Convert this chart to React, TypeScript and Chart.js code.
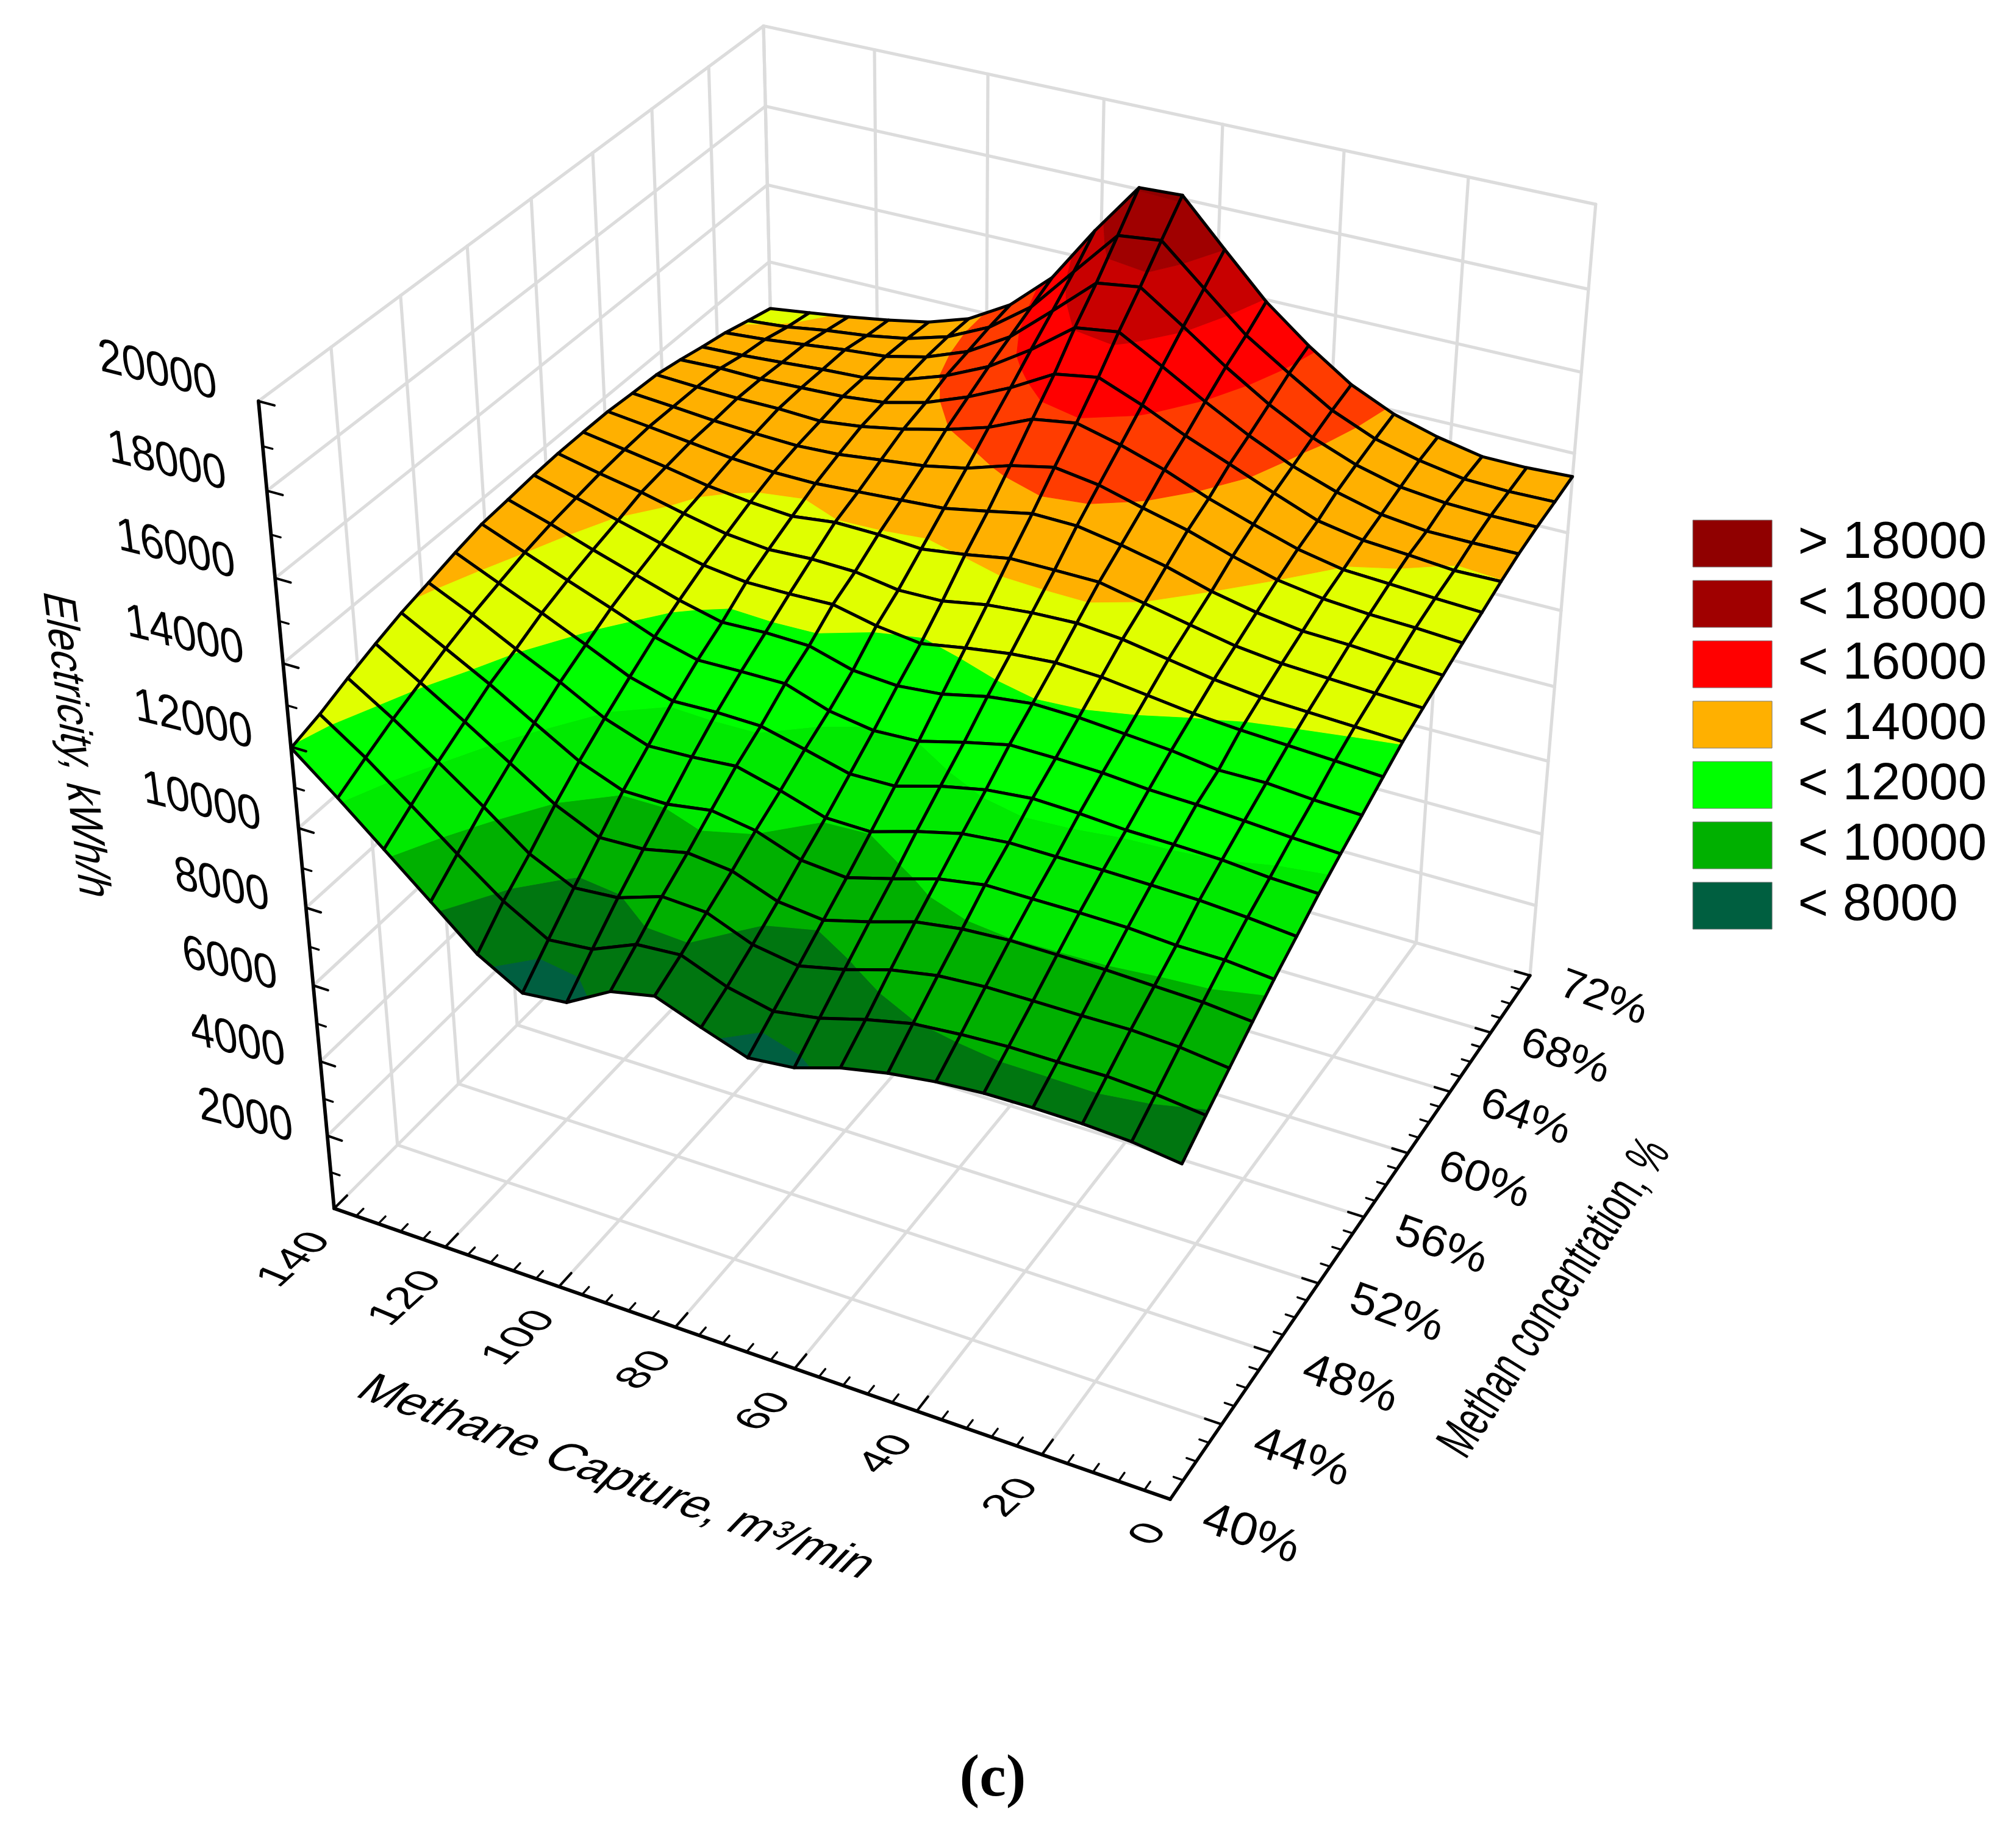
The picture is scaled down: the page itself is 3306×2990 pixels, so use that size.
import React, { useEffect, useRef } from "react";
import { Chart, registerables } from "chart.js";
Chart.register(...registerables);

// ---- data ----
const methaneCapture = [0, 7.4, 14.7, 22.1, 29.5, 36.8, 44.2, 51.6, 58.9, 66.3, 73.7, 81.1, 88.4, 95.8, 103.2, 110.5, 117.9, 125.3, 132.6, 140];
const methaneConcentration = [40, 41.7, 43.4, 45.1, 46.7, 48.4, 50.1, 51.8, 53.5, 55.2, 56.8, 58.5, 60.2, 61.9, 63.6, 65.3, 66.9, 68.6, 70.3, 72];
// one row per concentration, one column per capture value
const electricity: number[][] = [
  [8520,8670,8730,8740,8720,8630,8470,8230,7870,7750,8140,8560,8320,7690,7570,8200,9170,10130,11070,11970],
  [8950,9080,9150,9130,9130,9070,8970,8710,8390,8200,8450,8890,8810,8340,8230,8860,9700,10580,11430,12180],
  [9360,9500,9560,9540,9540,9530,9450,9240,8900,8640,8820,9270,9330,8960,8870,9390,10230,11020,11770,12460],
  [9770,9880,9920,9960,9970,9980,9910,9740,9400,9100,9220,9640,9760,9520,9480,9980,10690,11400,12060,12710],
  [10140,10250,10260,10340,10360,10360,10360,10170,9840,9530,9630,10030,10210,10040,10050,10470,11110,11760,12340,12920],
  [10490,10600,10680,10710,10730,10730,10740,10630,10360,10020,10040,10390,10680,10590,10550,10930,11520,12040,12590,13090],
  [10850,10900,11000,11040,11060,11140,11180,11070,10840,10520,10500,10790,11060,11090,11060,11360,11860,12350,12800,13270],
  [11160,11220,11300,11370,11410,11500,11540,11550,11300,11010,10960,11140,11510,11510,11490,11770,12190,12590,13000,13420],
  [11450,11500,11590,11580,11740,11830,11920,11950,11820,11570,11470,11550,11860,11890,11850,12110,12450,12790,13150,13480],
  [11750,11820,11880,11940,12030,12170,12310,12360,12280,12120,11930,12070,12310,12280,12280,12420,12680,12970,13260,13550],
  [12020,12070,12120,12170,12300,12490,12680,12780,12740,12640,12440,12420,12590,12620,12570,12680,12910,13160,13360,13590],
  [12230,12280,12340,12400,12530,12750,12980,13210,13220,13220,13030,12880,12960,12980,12850,12930,13060,13260,13430,13600],
  [12430,12490,12570,12610,12770,13000,13320,13560,13750,13770,13550,13340,13270,13200,13130,13140,13220,13350,13480,13600],
  [12630,12700,12740,12830,13000,13300,13650,13920,14210,14370,14140,13800,13590,13460,13330,13280,13320,13380,13470,13550],
  [12800,12850,12920,12980,13200,13530,13890,14320,14660,14930,14760,14290,13970,13710,13510,13380,13430,13430,13460,13510],
  [12990,12970,13070,13150,13350,13760,14200,14630,15120,15540,15360,14760,14270,13860,13600,13490,13450,13410,13430,13390],
  [13140,13130,13140,13270,13550,13920,14410,14980,15590,16180,16030,15230,14550,14060,13700,13490,13440,13360,13290,13250],
  [13250,13250,13290,13410,13690,14100,14660,15330,16070,16790,16640,15700,14800,14170,13770,13530,13440,13320,13200,13120],
  [13330,13310,13350,13540,13810,14260,14920,15610,16520,17450,17330,16190,15060,14290,13790,13490,13310,13190,13030,12940],
  [13420,13370,13380,13600,13910,14390,15110,15950,17000,18090,18040,16740,15320,14370,13760,13420,13220,13050,12910,12770],
];
const captureTicks = [0, 20, 40, 60, 80, 100, 120, 140];
const concentrationTicks = [40, 44, 48, 52, 56, 60, 64, 68, 72];
const electricityTicks = [2000, 4000, 6000, 8000, 10000, 12000, 14000, 16000, 18000, 20000];
const bandLimits = [-1e9, 8000, 9000, 10000, 11000, 12000, 13000, 14000, 15000, 16000, 17000, 18000, 1e9];
const bandColors = ["#005f40", "#007610", "#00b000", "#00ea00", "#00ff00", "#e0ff00", "#ffb000", "#ff3c00", "#ff0000", "#c80000", "#a00000", "#900000"];
const legendTexts = ["> 18000", "< 18000", "< 16000", "< 14000", "< 12000", "< 10000", "< 8000"];
const legendColors = ["#900000", "#a00000", "#ff0000", "#ffb000", "#00ff00", "#00b000", "#005f40"];

// ---- camera: data value -> plane of the chart's x / y scales ----
const CAP_MAX = 140, CONC_MIN = 40, CONC_SPAN = 32, Z_MAX = 20000;
type P3 = { cap: number; conc: number; z: number };
function project(cap: number, conc: number, z: number) {
  const X = cap / CAP_MAX, Y = (conc - CONC_MIN) / CONC_SPAN, Z = z / Z_MAX;
  const w = 1 + 0.0876 * X + 0.1688 * Y - 0.11899 * Z;
  return { x: (1919 - 1323 * X + 1013.5 * Y - 185.4 * Z) / w, y: (2459 - 303.4 * X - 588.9 * Y - 1518.3 * Z) / w };
}
const pr = (p: P3) => project(p.cap, p.conc, p.z);

function clip(poly: P3[], limit: number, keepAbove: boolean): P3[] {
  const out: P3[] = [];
  for (let k = 0; k < poly.length; k++) {
    const a = poly[k], b = poly[(k + 1) % poly.length];
    const ina = keepAbove ? a.z >= limit : a.z <= limit;
    const inb = keepAbove ? b.z >= limit : b.z <= limit;
    if (ina) out.push(a);
    if (ina !== inb) {
      const t = (limit - a.z) / (b.z - a.z);
      out.push({ cap: a.cap + t * (b.cap - a.cap), conc: a.conc + t * (b.conc - a.conc), z: limit });
    }
  }
  return out;
}

function buildDatasets() {
  const list: any[] = [];
  const seg = (pts: { x: number; y: number }[], color: string, width: number) =>
    list.push({ data: pts, showLine: true, pointRadius: 0, borderColor: color, borderWidth: width, fill: false, borderCapStyle: "round", borderJoinStyle: "round" });
  const GRID = "#dcdcdc", GW = 5.2;
  // walls and floor
  for (const c of concentrationTicks) {
    seg([project(CAP_MAX, c, 0), project(CAP_MAX, c, Z_MAX)], GRID, GW);
    seg([project(0, c, 0), project(CAP_MAX, c, 0)], GRID, GW);
  }
  for (const c of captureTicks) {
    seg([project(c, 72, 0), project(c, 72, Z_MAX)], GRID, GW);
    seg([project(c, 40, 0), project(c, 72, 0)], GRID, GW);
  }
  for (const z of electricityTicks) {
    seg([project(CAP_MAX, 40, z), project(CAP_MAX, 72, z), project(0, 72, z)], GRID, GW);
  }
  // surface, back to front, cut into contour bands
  for (let j = methaneConcentration.length - 2; j >= 0; j--) {
    for (let i = methaneCapture.length - 2; i >= 0; i--) {
      const quad: P3[] = [[i, j], [i + 1, j], [i + 1, j + 1], [i, j + 1]].map(([a, b]) => ({ cap: methaneCapture[a], conc: methaneConcentration[b], z: electricity[b][a] }));
      for (let b = 0; b < bandColors.length; b++) {
        let poly = clip(quad, bandLimits[b], true);
        if (poly.length) poly = clip(poly, bandLimits[b + 1], false);
        if (poly.length < 3) continue;
        const pts = poly.map(pr);
        pts.push(pts[0]);
        list.push({ data: pts, showLine: true, pointRadius: 0, borderColor: bandColors[b], backgroundColor: bandColors[b], borderWidth: 1.2, fill: "shape" });
      }
      const ring = quad.map(pr);
      ring.push(ring[0]);
      seg(ring, "#000000", 5);
    }
  }
  // axes and tick marks
  seg([project(CAP_MAX, 40, 0), project(CAP_MAX, 40, Z_MAX)], "#000", 5.8);
  seg([project(CAP_MAX, 40, 0), project(0, 40, 0)], "#000", 5.8);
  seg([project(0, 40, 0), project(0, 72, 0)], "#000", 5.4);
  for (let z = 1000; z <= 20000; z += 1000) {
    const major = z % 2000 === 0;
    seg([project(CAP_MAX, 40, z), project(CAP_MAX - (major ? 2.6 : 1.6), 40, z)], "#000", major ? 4 : 3.4);
  }
  for (let c = 0; c <= 140; c += 4) {
    const major = c % 20 === 0;
    seg([project(c, 40, 0), project(c, 40 + (major ? 0.8 : 0.45), 0)], "#000", major ? 4 : 3.4);
  }
  for (let c = 40; c <= 72; c += 1) {
    const major = c % 4 === 0;
    seg([project(0, c, 0), project(major ? 2.6 : 1.5, c, 0)], "#000", major ? 4 : 3.4);
  }
  const n = list.length;
  list.forEach((d, k) => (d.order = n - k));
  return list;
}

const SANS = "'Liberation Sans', Arial, sans-serif";
const textPlugin = {
  id: "axisText",
  afterDatasetsDraw(chart: any) {
    const { ctx, scales } = chart;
    const put = (t: string, x: number, y: number, u: number[], d: number[], font: string, align: CanvasTextAlign = "center") => {
      ctx.save();
      ctx.transform(u[0], u[1], d[0], d[1], scales.x.getPixelForValue(x), scales.y.getPixelForValue(y));
      ctx.font = font;
      ctx.fillStyle = "#000";
      ctx.textAlign = align;
      ctx.textBaseline = "middle";
      ctx.fillText(t, 0, 0);
      ctx.restore();
    };
    for (const z of electricityTicks) {
      const p = project(CAP_MAX, 40, z);
      put(String(z), p.x - 55 - 13 * (z / Z_MAX), p.y - 10 - 14 * (z / Z_MAX), [0.97, 0.24], [0.14, 1.1], `72px ${SANS}`, "right");
    }
    for (const c of captureTicks) {
      const p = project(c, 40, 0);
      put(String(c), p.x - 20, p.y + 44, [0.74, -0.67], [0.88, 0.37], `72px ${SANS}`, "right");
    }
    for (const c of concentrationTicks) {
      const p = project(0, c, 0);
      const t = (c - 40) / 32;
      put(`${c}%`, p.x + 132 - 12 * t, p.y + 58 - 20 * t, [0.94, 0.34], [-0.28, 0.88], `${82 - 8 * t}px ${SANS}`);
    }
    put("Methane Capture, m³/min", 1010, 2424, [0.94, 0.34], [-0.69, 0.72], `78px ${SANS}`);
    put("Methan concentration, %", 2551, 2130, [0.346, -0.519], [0.85, 0.53], `88px ${SANS}`);
    put("Electricity, kWh/h", 122, 1222, [0.102, 0.842], [-0.97, -0.25], `78px ${SANS}`);
    put("(c)", 1628, 2920, [1, 0], [0, 1], `bold 98px 'Liberation Serif', serif`);
  },
};

const legendPlacer = {
  id: "legendPlacer",
  afterLayout(chart: any) {
    const l = chart.legend;
    if (!l) return;
    l.left = 2762; l.right = 3306; l.top = 835; l.bottom = 2990;
    l.adjustHitBoxes();
  },
};

export default function App() {
  const ref = useRef<HTMLCanvasElement>(null);
  useEffect(() => {
    const chart = new Chart(ref.current!, {
      type: "scatter",
      data: { datasets: buildDatasets() },
      options: {
        responsive: false,
        animation: false,
        devicePixelRatio: 1,
        events: [],
        parsing: false,
        layout: { padding: 0 },
        scales: {
          x: { type: "linear", min: 0, max: 3306, display: false },
          y: { type: "linear", min: 0, max: 2990, reverse: true, display: false },
        },
        plugins: {
          tooltip: { enabled: false },
          legend: {
            position: "chartArea",
            align: "start",
            labels: {
              boxWidth: 130,
              boxHeight: 77,
              padding: 14,
              color: "#000",
              font: { family: "'Liberation Sans', Arial, sans-serif", size: 85, lineHeight: 1 },
              generateLabels: () => legendTexts.map((text, k) => ({ text, fillStyle: legendColors[k], strokeStyle: "#7a7a7a", lineWidth: 1, hidden: false, datasetIndex: 0 })),
            },
          },
        },
      } as any,
      plugins: [legendPlacer, textPlugin],
    } as any);
    return () => chart.destroy();
  }, []);
  return <canvas ref={ref} width={3306} height={2990} style={{ position: "absolute", left: 0, top: 0, display: "block", background: "#fff" }} />;
}
